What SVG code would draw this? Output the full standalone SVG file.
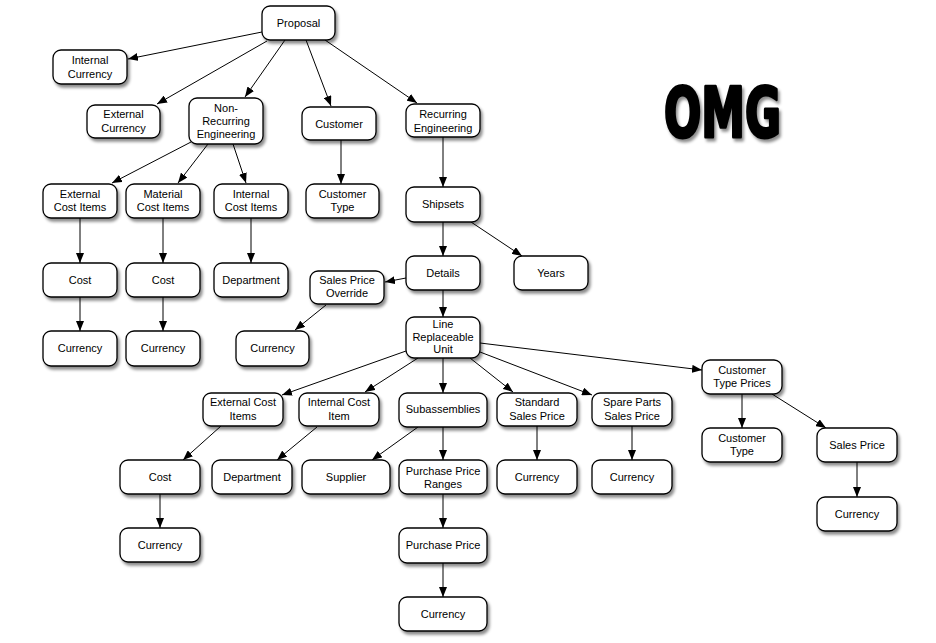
<svg xmlns="http://www.w3.org/2000/svg" width="936" height="643" viewBox="0 0 936 643">
<defs>
<filter id="sh" x="-20%" y="-20%" width="150%" height="160%">
<feDropShadow dx="2" dy="3" stdDeviation="1.8" flood-color="#000" flood-opacity="0.45"/>
</filter>
<filter id="tsh" x="-10%" y="-10%" width="130%" height="140%">
<feDropShadow dx="2" dy="3" stdDeviation="1.5" flood-color="#000" flood-opacity="0.45"/>
</filter>
<marker id="ah" viewBox="0 0 10 8" refX="10" refY="4" markerWidth="10" markerHeight="8" markerUnits="userSpaceOnUse" orient="auto">
<path d="M0,0 L10,4 L0,8 z" fill="#000"/>
</marker>
</defs>
<style>
.n rect{fill:#fff;stroke:#000;stroke-width:1.3;filter:url(#sh)}
.n text{font-family:"Liberation Sans",Arial,sans-serif;font-size:11px;fill:#000;text-anchor:middle}
#edges line{stroke:#000;stroke-width:1;marker-end:url(#ah)}
</style>
<rect width="936" height="643" fill="#fff"/>
<g id="edges">
<line x1="262" y1="32" x2="128" y2="59"/>
<line x1="267" y1="41" x2="157" y2="104"/>
<line x1="285" y1="40" x2="245" y2="97"/>
<line x1="306" y1="40" x2="331" y2="106"/>
<line x1="325" y1="40" x2="417" y2="103"/>
<line x1="191" y1="142" x2="112" y2="183"/>
<line x1="208" y1="144" x2="178" y2="183"/>
<line x1="233" y1="144" x2="246" y2="183"/>
<line x1="341" y1="140" x2="341" y2="184"/>
<line x1="443" y1="137" x2="443" y2="187"/>
<line x1="80" y1="218" x2="80" y2="263"/>
<line x1="163" y1="218" x2="163" y2="263"/>
<line x1="251" y1="218" x2="251" y2="263"/>
<line x1="443" y1="222" x2="443" y2="256"/>
<line x1="471" y1="222" x2="522" y2="256"/>
<line x1="406" y1="278" x2="385" y2="282"/>
<line x1="443" y1="290" x2="443" y2="317"/>
<line x1="326" y1="305" x2="295" y2="330"/>
<line x1="80" y1="297" x2="80" y2="331"/>
<line x1="163" y1="297" x2="163" y2="331"/>
<line x1="406" y1="351" x2="282" y2="395"/>
<line x1="418" y1="358" x2="365" y2="392"/>
<line x1="443" y1="358" x2="443" y2="393"/>
<line x1="470" y1="358" x2="513" y2="392"/>
<line x1="480" y1="352" x2="592" y2="395"/>
<line x1="480" y1="343" x2="702" y2="370"/>
<line x1="221" y1="426" x2="183" y2="460"/>
<line x1="317" y1="427" x2="277" y2="460"/>
<line x1="418" y1="427" x2="372" y2="460"/>
<line x1="443" y1="427" x2="443" y2="460"/>
<line x1="537" y1="426" x2="537" y2="460"/>
<line x1="632" y1="426" x2="632" y2="460"/>
<line x1="443" y1="494" x2="443" y2="528"/>
<line x1="443" y1="563" x2="443" y2="597"/>
<line x1="160" y1="494" x2="160" y2="528"/>
<line x1="742" y1="394" x2="742" y2="428"/>
<line x1="772" y1="394" x2="826" y2="428"/>
<line x1="857" y1="462" x2="857" y2="497"/>
</g>
<g id="n-proposal" class="n"><rect x="262" y="6" width="73" height="34" rx="8"/><text x="298.5" y="27">Proposal</text></g>
<g id="n-intcur" class="n"><rect x="53" y="50" width="74" height="34" rx="8"/><text x="90" y="64">Internal</text><text x="90" y="78">Currency</text></g>
<g id="n-extcur" class="n"><rect x="87" y="105" width="73" height="33" rx="8"/><text x="123.5" y="118">External</text><text x="123.5" y="132">Currency</text></g>
<g id="n-nre" class="n"><rect x="189" y="98" width="74" height="46" rx="8"/><text x="226" y="112">Non-</text><text x="226" y="125">Recurring</text><text x="226" y="138">Engineering</text></g>
<g id="n-customer" class="n"><rect x="302" y="107" width="74" height="33" rx="8"/><text x="339" y="127.5">Customer</text></g>
<g id="n-re" class="n"><rect x="406" y="104" width="74" height="33" rx="8"/><text x="443" y="118">Recurring</text><text x="443" y="132">Engineering</text></g>
<g id="n-eci" class="n"><rect x="43" y="184" width="74" height="34" rx="8"/><text x="80" y="198">External</text><text x="80" y="211">Cost Items</text></g>
<g id="n-mci" class="n"><rect x="126" y="184" width="74" height="34" rx="8"/><text x="163" y="198">Material</text><text x="163" y="211">Cost Items</text></g>
<g id="n-ici" class="n"><rect x="214" y="184" width="74" height="34" rx="8"/><text x="251" y="198">Internal</text><text x="251" y="211">Cost Items</text></g>
<g id="n-custtype" class="n"><rect x="306" y="184" width="73" height="34" rx="8"/><text x="342.5" y="198">Customer</text><text x="342.5" y="211">Type</text></g>
<g id="n-shipsets" class="n"><rect x="406" y="187" width="74" height="35" rx="8"/><text x="443" y="208">Shipsets</text></g>
<g id="n-cost1" class="n"><rect x="43" y="263" width="74" height="34" rx="8"/><text x="80" y="284">Cost</text></g>
<g id="n-cost2" class="n"><rect x="126" y="263" width="74" height="34" rx="8"/><text x="163" y="284">Cost</text></g>
<g id="n-dept1" class="n"><rect x="214" y="263" width="74" height="34" rx="8"/><text x="251" y="284">Department</text></g>
<g id="n-spo" class="n"><rect x="310" y="271" width="74" height="33" rx="8"/><text x="347" y="284">Sales Price</text><text x="347" y="297">Override</text></g>
<g id="n-details" class="n"><rect x="406" y="256" width="74" height="34" rx="8"/><text x="443" y="277">Details</text></g>
<g id="n-years" class="n"><rect x="514" y="256" width="74" height="34" rx="8"/><text x="551" y="277">Years</text></g>
<g id="n-cur1" class="n"><rect x="43" y="331" width="74" height="35" rx="8"/><text x="80" y="352">Currency</text></g>
<g id="n-cur2" class="n"><rect x="126" y="331" width="74" height="35" rx="8"/><text x="163" y="352">Currency</text></g>
<g id="n-cur3" class="n"><rect x="236" y="331" width="73" height="35" rx="8"/><text x="272.5" y="352">Currency</text></g>
<g id="n-lru" class="n"><rect x="406" y="317" width="74" height="41" rx="8"/><text x="443" y="328">Line</text><text x="443" y="341">Replaceable</text><text x="443" y="353">Unit</text></g>
<g id="n-eci2" class="n"><rect x="203" y="393" width="80" height="33" rx="8"/><text x="243" y="406">External Cost</text><text x="243" y="420">Items</text></g>
<g id="n-ici2" class="n"><rect x="299" y="393" width="80" height="33" rx="8"/><text x="339" y="406">Internal Cost</text><text x="339" y="420">Item</text></g>
<g id="n-subasm" class="n"><rect x="399" y="393" width="88" height="34" rx="8"/><text x="443" y="413">Subassemblies</text></g>
<g id="n-ssp" class="n"><rect x="497" y="393" width="80" height="33" rx="8"/><text x="537" y="406">Standard</text><text x="537" y="420">Sales Price</text></g>
<g id="n-spsp" class="n"><rect x="592" y="393" width="80" height="33" rx="8"/><text x="632" y="406">Spare Parts</text><text x="632" y="420">Sales Price</text></g>
<g id="n-ctp" class="n"><rect x="702" y="360" width="80" height="34" rx="8"/><text x="742" y="374">Customer</text><text x="742" y="387">Type Prices</text></g>
<g id="n-cost3" class="n"><rect x="120" y="460" width="80" height="34" rx="8"/><text x="160" y="481">Cost</text></g>
<g id="n-dept2" class="n"><rect x="212" y="460" width="80" height="34" rx="8"/><text x="252" y="481">Department</text></g>
<g id="n-supplier" class="n"><rect x="302" y="460" width="88" height="34" rx="8"/><text x="346" y="481">Supplier</text></g>
<g id="n-ppr" class="n"><rect x="399" y="460" width="88" height="34" rx="8"/><text x="443" y="475">Purchase Price</text><text x="443" y="488">Ranges</text></g>
<g id="n-cur4" class="n"><rect x="497" y="460" width="80" height="34" rx="8"/><text x="537" y="481">Currency</text></g>
<g id="n-cur5" class="n"><rect x="592" y="460" width="80" height="34" rx="8"/><text x="632" y="481">Currency</text></g>
<g id="n-ct2" class="n"><rect x="702" y="428" width="80" height="34" rx="8"/><text x="742" y="442">Customer</text><text x="742" y="455">Type</text></g>
<g id="n-sp" class="n"><rect x="817" y="428" width="80" height="34" rx="8"/><text x="857" y="449">Sales Price</text></g>
<g id="n-cur6" class="n"><rect x="120" y="528" width="80" height="34" rx="8"/><text x="160" y="549">Currency</text></g>
<g id="n-pp" class="n"><rect x="399" y="528" width="88" height="35" rx="8"/><text x="443" y="549">Purchase Price</text></g>
<g id="n-cur7" class="n"><rect x="817" y="497" width="80" height="34" rx="8"/><text x="857" y="518">Currency</text></g>
<g id="n-cur8" class="n"><rect x="399" y="597" width="88" height="34" rx="8"/><text x="443" y="618">Currency</text></g>
<text x="664" y="137" textLength="117" lengthAdjust="spacingAndGlyphs" font-family="'DejaVu Sans Condensed','DejaVu Sans',sans-serif" font-weight="bold" font-size="69" fill="#000" stroke="#000" stroke-width="3" stroke-linejoin="round" filter="url(#tsh)">OMG</text>
</svg>
